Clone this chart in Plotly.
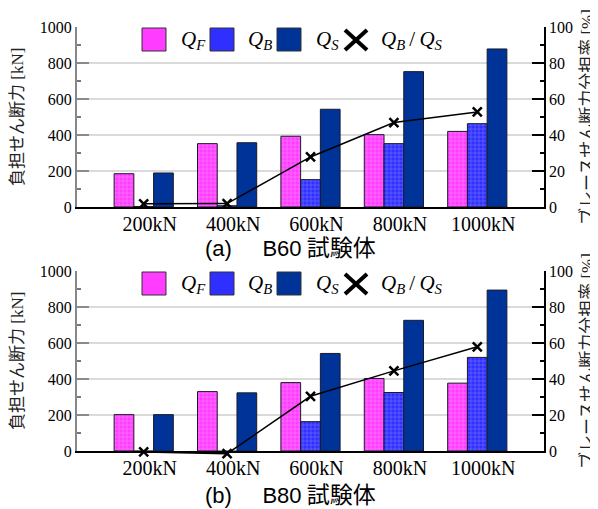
import plotly.graph_objects as go

categories = ["200kN", "400kN", "600kN", "800kN", "1000kN"]

# (a) B60
qf_a = [185, 352, 393, 402, 420]
qb_a = [3, 7, 152, 352, 463]
qs_a = [189, 357, 543, 752, 878]
ratio_a = [1.8, 1.9, 27.8, 46.9, 52.8]

# (b) B80
qf_b = [202, 330, 380, 403, 377]
qb_b = [-1, -5, 163, 325, 520]
qs_b = [202, 323, 542, 726, 894]
ratio_b = [-0.5, -1.5, 30.4, 44.5, 57.9]

caption_labels = ["(a)", "(b)"]
caption_names = ["B60", "B80"]
caption_suffix = "試験体"
left_title = "負担せん断力 [kN]"
right_title = "ブレースせん断力分担率 [%]"
legend_names = ["<i>Q</i><sub><i>F</i></sub>", "<i>Q</i><sub><i>B</i></sub>",
                "<i>Q</i><sub><i>S</i></sub>",
                "<i>Q</i><sub><i>B</i></sub>\u2009/\u2009<i>Q</i><sub><i>S</i></sub>"]

# page offset of the figure inside the html body (default body margin)
OFF = 8
W, H = 598 - OFF, 509 - OFF
ML, MR, MT, MB = 77 - OFF, 54, 27 - OFF, 46
PW = W - ML - MR
PH = H - MT - MB
BOT = H - MB  # figure-pixel y of bottom of plotting region


def fx(xpage):
    return (xpage - OFF - ML) / PW


def fy(ypage):
    return (BOT - (ypage - OFF)) / PH


QF_COLOR, QF_FG = "#ff3cff", "#ffb8ff"
QB_COLOR, QB_FG = "#2f2fff", "#a8a8ff"
QS_COLOR = "#003398"
EDGE = "#1a1a2a"
SERIF = "Liberation Serif, Noto Sans CJK JP, serif"
SANS = "Liberation Sans, Noto Sans CJK JP, sans-serif"

fig = go.Figure()

panels = [
    (qf_a, qb_a, qs_a, ratio_a, "x", "y", "y2", "y5"),
    (qf_b, qb_b, qs_b, ratio_b, "x2", "y3", "y4", "y6"),
]

for qf, qb, qs, ratio, xa, ya, yright, yr in panels:
    fig.add_trace(go.Bar(x=categories, y=qf, xaxis=xa, yaxis=ya, showlegend=False,
                         offsetgroup="F",
                         marker=dict(color=QF_COLOR, line=dict(color=EDGE, width=1),
                                     pattern=dict(shape="+", fgcolor=QF_FG, bgcolor=QF_COLOR,
                                                  size=4, solidity=0.3, fillmode="overlay"))))
    fig.add_trace(go.Bar(x=categories, y=qb, xaxis=xa, yaxis=ya, showlegend=False,
                         offsetgroup="B",
                         marker=dict(color=QB_COLOR, line=dict(color=EDGE, width=1),
                                     pattern=dict(shape="+", fgcolor=QB_FG, bgcolor=QB_COLOR,
                                                  size=4, solidity=0.3, fillmode="overlay"))))
    fig.add_trace(go.Bar(x=categories, y=qs, xaxis=xa, yaxis=ya, showlegend=False,
                         offsetgroup="S",
                         marker=dict(color=QS_COLOR, line=dict(color=EDGE, width=1))))
    # empty trace so that the visible right-hand axis gets drawn
    fig.add_trace(go.Scatter(x=[], y=[], xaxis=xa, yaxis=yright, showlegend=False,
                             hoverinfo="skip", mode="lines"))
    fig.add_trace(go.Scatter(x=categories, y=ratio, xaxis=xa, yaxis=yr, showlegend=False,
                             mode="lines+markers",
                             line=dict(color="black", width=1.5),
                             marker=dict(symbol="x-thin", size=9,
                                         line=dict(color="black", width=2.5))))

top_dom = [fy(207), fy(27)]
bot_dom = [fy(451), fy(271)]
EXT = 12  # px of extra room below each panel for the ratio markers
top_ext = [fy(207 + EXT), fy(27)]
bot_ext = [fy(451 + EXT), fy(271)]


def xaxis_style(anchor):
    return dict(anchor=anchor, domain=[0, 1], range=[-0.8, 4.8], showline=True,
                linecolor="black", linewidth=1.5, ticks="", showgrid=False,
                zeroline=False, tickfont=dict(family=SERIF, size=20, color="black"),
                ticklabelshift=6, ticklabelstandoff=-2)


def yleft_style(anchor, dom):
    return dict(anchor=anchor, domain=dom, range=[0, 1000], dtick=200,
                showline=True, linecolor="#888888", linewidth=2,
                ticks="inside", ticklen=12, tickwidth=2, tickcolor="#8a8a8a",
                minor=dict(dtick=100, ticks="inside", ticklen=4, tickwidth=1.5,
                           tickcolor="#777777", showgrid=False),
                showgrid=True, gridcolor="#dadada", gridwidth=2, zeroline=False,
                tickfont=dict(family=SERIF, size=16, color="black"))


def yright_style(overlay, anchor):
    return dict(overlaying=overlay, anchor=anchor, side="right", range=[0, 100], dtick=20,
                showline=True, linecolor="black", linewidth=1.5,
                ticks="inside", ticklen=12, tickwidth=1.5, tickcolor="black",
                minor=dict(dtick=10, ticks="inside", ticklen=4, tickwidth=1.5,
                           tickcolor="black", showgrid=False),
                showgrid=False, zeroline=False,
                tickfont=dict(family=SERIF, size=16, color="black"))


def yratio_style(anchor, dom):
    # hidden axis with the same 0-100 scale as the right axis, extended downward
    return dict(anchor=anchor, domain=dom, range=[-100 * EXT / 180, 100],
                visible=False, showgrid=False, zeroline=False)


fig.update_layout(
    width=W, height=H,
    margin=dict(l=ML, r=MR, t=MT, b=MB, autoexpand=False),
    paper_bgcolor="white", plot_bgcolor="rgba(0,0,0,0)",
    barmode="group", bargap=0.29, bargroupgap=0,
    xaxis=xaxis_style("y"), yaxis=yleft_style("x", top_dom), yaxis2=yright_style("y", "x"),
    xaxis2=xaxis_style("y3"), yaxis3=yleft_style("x2", bot_dom), yaxis4=yright_style("y3", "x2"),
    yaxis5=yratio_style("x", top_ext), yaxis6=yratio_style("x2", bot_ext),
    showlegend=False,
)

shapes = []
annotations = []
for xr, yr_ref in [("x domain", "y domain"), ("x2 domain", "y3 domain")]:
    sw_top, sw_bot = 1 - 1 / 180, 1 - 24 / 180
    for x0, col in [(142, QF_COLOR), (210, QB_COLOR), (277, QS_COLOR)]:
        shapes.append(dict(type="rect", xref=xr, yref=yr_ref, x0=fx(x0), x1=fx(x0 + 24),
                           y0=sw_bot, y1=sw_top, fillcolor=col,
                           line=dict(color="#333333", width=1)))
    xc0, xc1 = fx(345), fx(367)
    yc0, yc1 = 1 - 3 / 180, 1 - 23 / 180
    shapes.append(dict(type="line", xref=xr, yref=yr_ref, x0=xc0, x1=xc1, y0=yc0, y1=yc1,
                       line=dict(color="black", width=4)))
    shapes.append(dict(type="line", xref=xr, yref=yr_ref, x0=xc0, x1=xc1, y0=yc1, y1=yc0,
                       line=dict(color="black", width=4)))
    for x0, name in zip([179, 246, 314, 379], legend_names):
        annotations.append(dict(xref=xr, yref=yr_ref, x=fx(x0), y=1 - 13 / 180,
                                xanchor="left", yanchor="middle", showarrow=False,
                                text=name, font=dict(family=SERIF, size=21, color="black")))

for lab, nm, yp in zip(caption_labels, caption_names, [246, 493]):
    cap = (lab + "\u00a0" * 5 + nm +
           '<span style="font-family:Noto Sans CJK JP;font-size:23px"> ' +
           caption_suffix + "</span>")
    annotations.append(dict(xref="paper", yref="paper", x=fx(203), y=fy(yp),
                            xanchor="left", yanchor="middle", showarrow=False,
                            text=cap, font=dict(family=SANS, size=22, color="black")))

for yc in [117, 361]:
    annotations.append(dict(xref="paper", yref="paper", x=fx(17), y=fy(yc),
                            xanchor="center", yanchor="middle", showarrow=False,
                            textangle=-90, text=left_title,
                            font=dict(family=SERIF, size=17, color="#222222")))
    annotations.append(dict(xref="paper", yref="paper", x=fx(587), y=fy(yc),
                            xanchor="center", yanchor="middle", showarrow=False,
                            textangle=-90, text=right_title,
                            font=dict(family=SERIF, size=17, color="#222222")))

fig.update_layout(shapes=shapes, annotations=annotations)

fig.write_html("out.html")
